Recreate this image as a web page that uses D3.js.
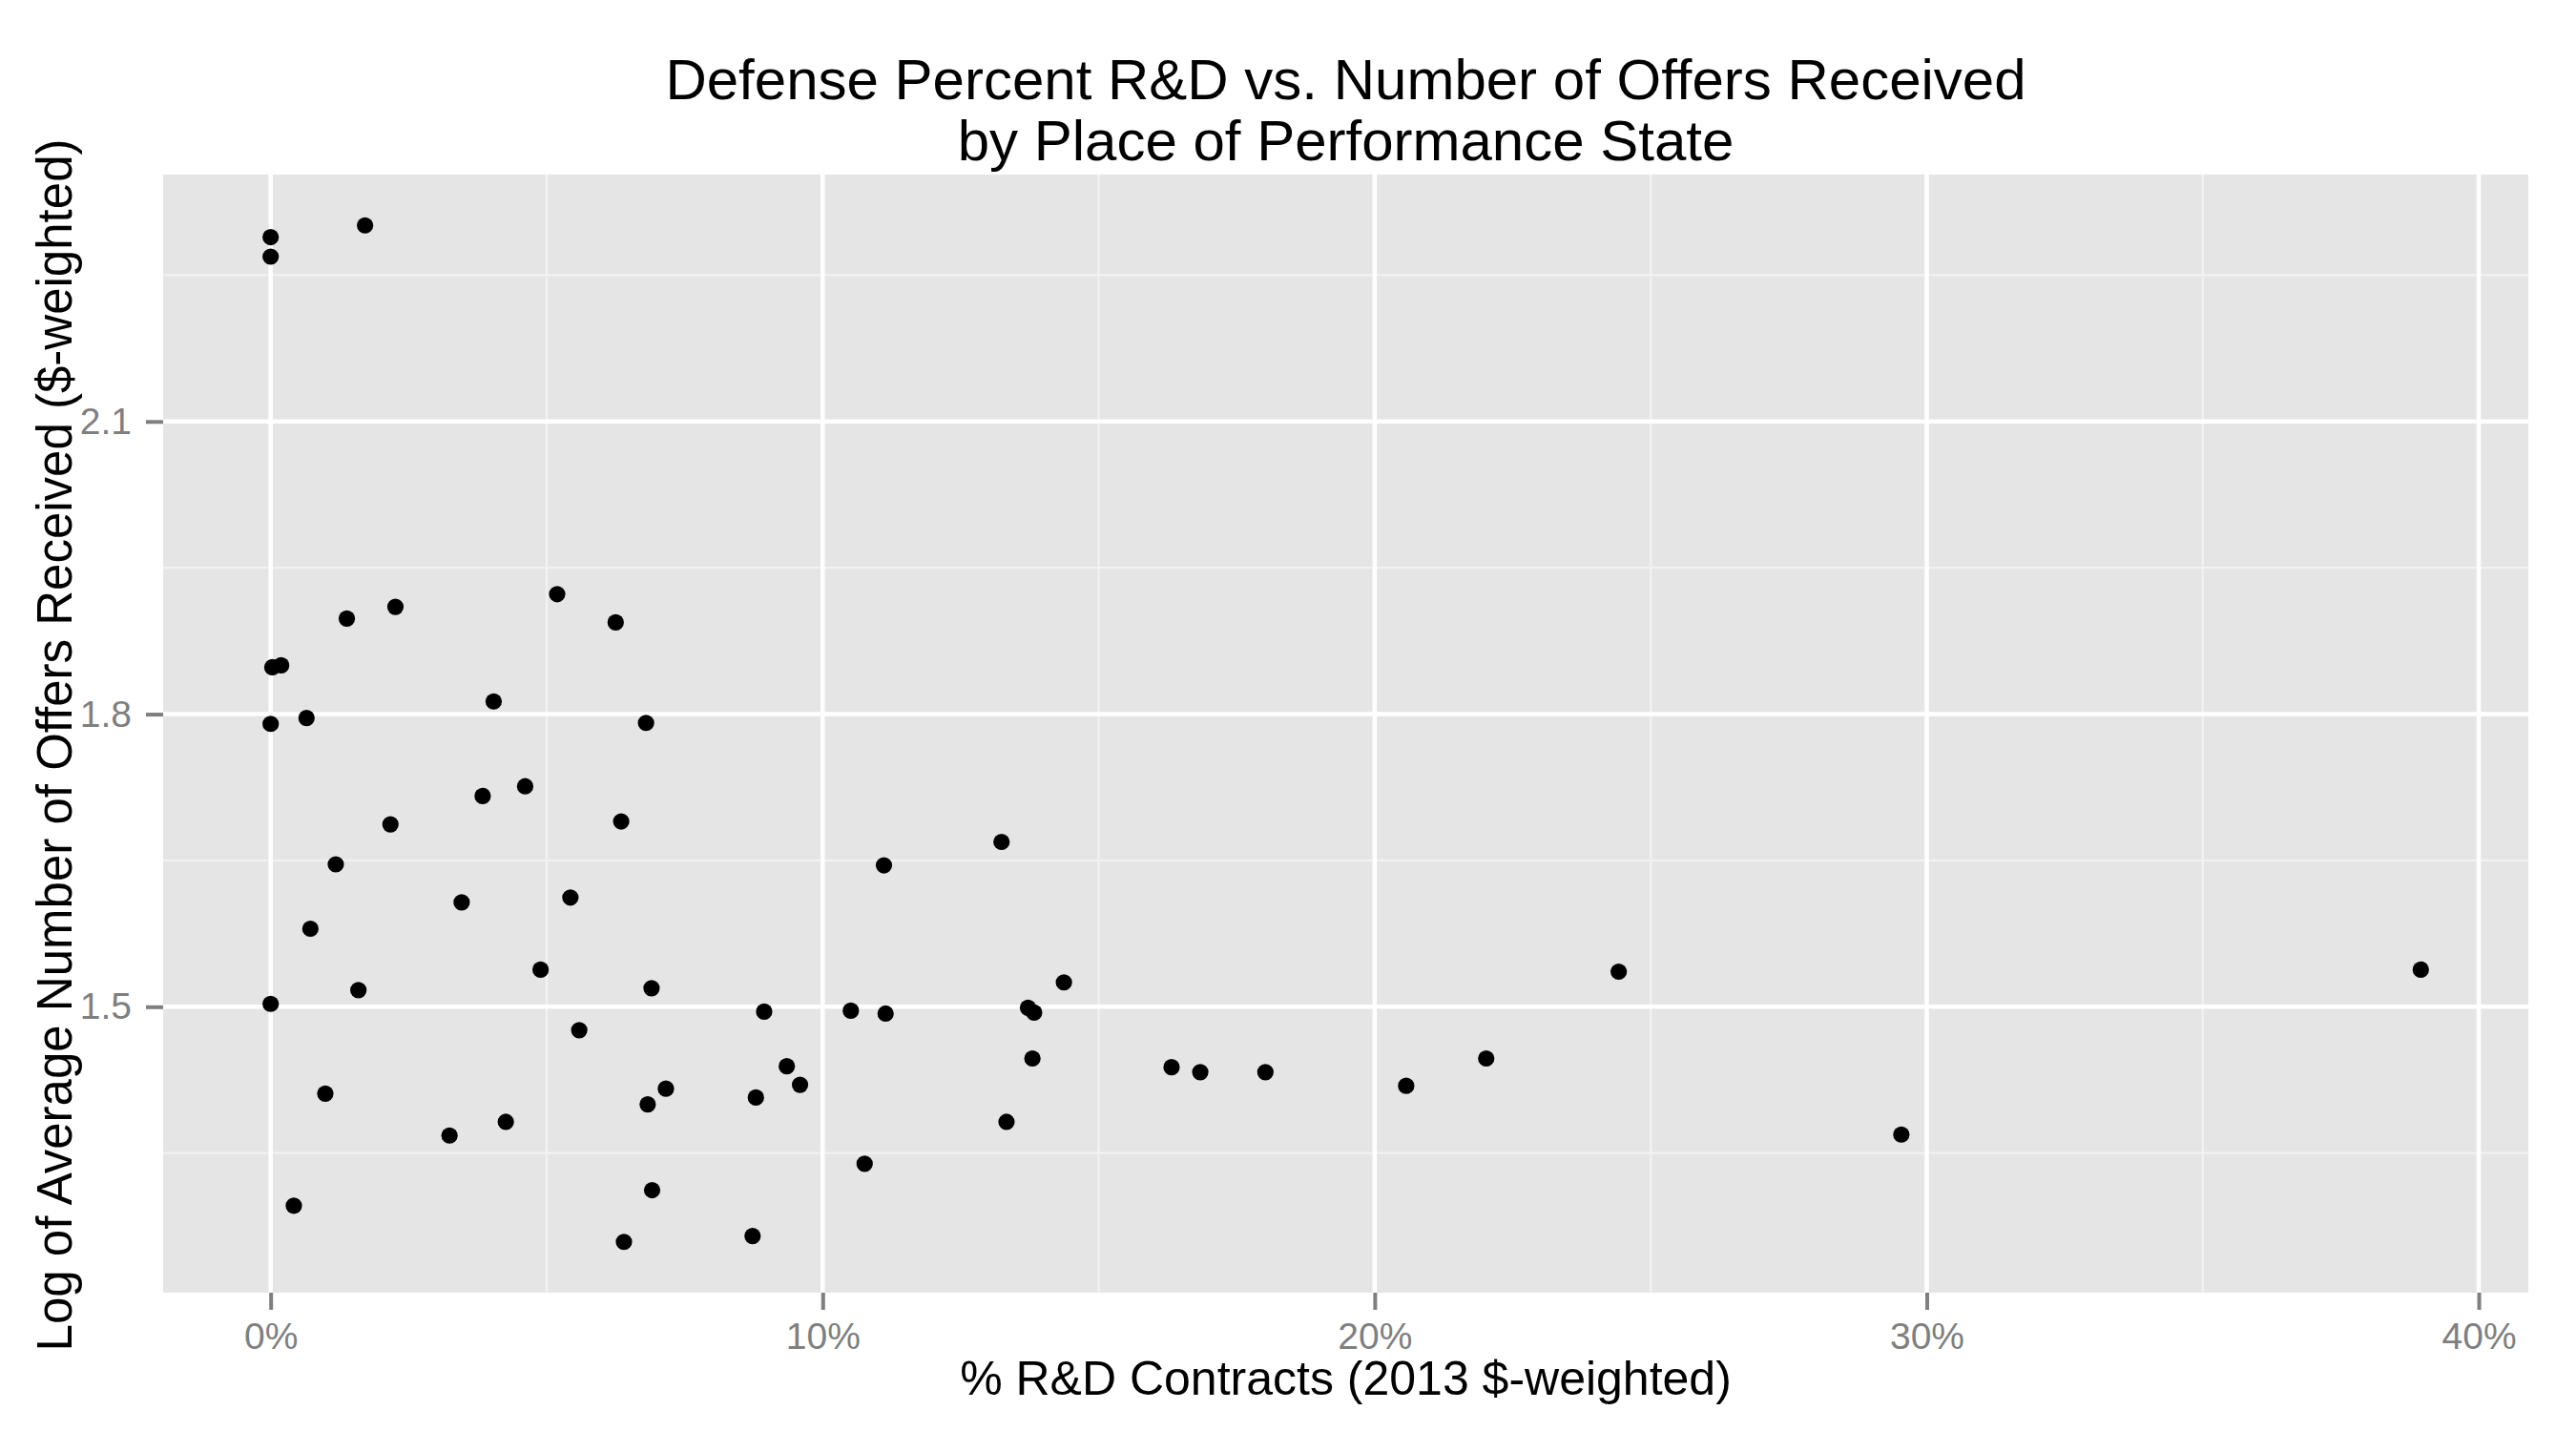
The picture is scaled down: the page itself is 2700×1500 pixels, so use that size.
<!DOCTYPE html>
<html>
<head>
<meta charset="utf-8">
<script src="https://cdn.jsdelivr.net/npm/d3@7"></script>
<style>
  body { margin: 0; background: #fff; }
  svg { display: block; font-family: "Liberation Sans", Arial, sans-serif; }
</style>
</head>
<body>
<svg id="chart" width="2700" height="1500"></svg>
<script>
// % R&D contracts (percent) per place of performance state
var pctRD = [
  0.0, 0.0, 1.71,
  1.38, 2.26, 5.19, 6.25, 0.03, 0.19, 4.04, 0.0, 0.65, 6.80, 4.61, 3.84, 2.17, 6.35, 1.18, 3.46, 5.43,
  0.72, 4.89, 1.59, 6.90, 0.0, 5.59, 7.16, 0.99, 6.83, 4.26, 3.24, 6.91, 0.42, 6.40,
  13.24, 11.11, 14.37, 8.94, 10.51, 11.14, 13.72, 13.83, 13.80, 9.35, 9.59, 8.79, 13.33, 10.76, 8.73,
  16.32, 16.84, 18.02, 20.57, 22.02, 24.42, 29.54, 38.95
];
// log of average number of offers received
var logOffers = [
  2.289, 2.269, 2.301,
  1.898, 1.910, 1.923, 1.894, 1.848, 1.850, 1.813, 1.790, 1.796, 1.791, 1.726, 1.716, 1.687, 1.690, 1.646, 1.607, 1.612,
  1.580, 1.538, 1.517, 1.519, 1.503, 1.476, 1.416, 1.411, 1.400, 1.382, 1.368, 1.312, 1.296, 1.259,
  1.669, 1.645, 1.525, 1.495, 1.496, 1.493, 1.499, 1.494, 1.447, 1.439, 1.420, 1.407, 1.382, 1.339, 1.265,
  1.438, 1.433, 1.433, 1.419, 1.447, 1.536, 1.369, 1.538
];

var xMajor = [0, 10, 20, 30, 40];
var xMinor = [5, 15, 25, 35];
var yMajor = [1.5, 1.8, 2.1];
var yMinor = [1.35, 1.65, 1.95, 2.25];

var titleLines = ["Defense Percent R&D vs. Number of Offers Received", "by Place of Performance State"];
var xTitle = "% R&D Contracts (2013 $-weighted)";
var yTitle = "Log of Average Number of Offers Received ($-weighted)";

var svg = d3.select("#chart");
var padding = { t: 183, r: 50, b: 145, l: 171 };
var chartWidth = 2700 - padding.l - padding.r;
var chartHeight = 1500 - padding.t - padding.b;

// ggplot style 5% expansion
function expand(ext) {
  var d = (ext[1] - ext[0]) * 0.05;
  return [ext[0] - d, ext[1] + d];
}

var xScale = d3.scaleLinear().domain(expand(d3.extent(pctRD))).range([0, chartWidth]);
var yScale = d3.scaleLinear().domain(expand(d3.extent(logOffers))).range([chartHeight, 0]);

var chartG = svg.append("g")
  .attr("transform", "translate(" + [padding.l, padding.t] + ")");

chartG.append("rect")
  .attr("width", chartWidth)
  .attr("height", chartHeight)
  .attr("fill", "#E5E5E5");

// minor grid
chartG.selectAll(".xminor").data(xMinor).enter().append("line")
  .attr("x1", d => xScale(d)).attr("x2", d => xScale(d))
  .attr("y1", 0).attr("y2", chartHeight)
  .attr("stroke", "#F2F2F2").attr("stroke-width", 2.2);
chartG.selectAll(".yminor").data(yMinor).enter().append("line")
  .attr("y1", d => yScale(d)).attr("y2", d => yScale(d))
  .attr("x1", 0).attr("x2", chartWidth)
  .attr("stroke", "#F2F2F2").attr("stroke-width", 2.2);

// major grid
chartG.selectAll(".xmajor").data(xMajor).enter().append("line")
  .attr("x1", d => xScale(d)).attr("x2", d => xScale(d))
  .attr("y1", 0).attr("y2", chartHeight)
  .attr("stroke", "#FFFFFF").attr("stroke-width", 4.5);
chartG.selectAll(".ymajor").data(yMajor).enter().append("line")
  .attr("y1", d => yScale(d)).attr("y2", d => yScale(d))
  .attr("x1", 0).attr("x2", chartWidth)
  .attr("stroke", "#FFFFFF").attr("stroke-width", 4.5);

// points
chartG.selectAll("circle").data(pctRD).enter().append("circle")
  .attr("cx", d => xScale(d))
  .attr("cy", (d, i) => yScale(logOffers[i]))
  .attr("r", 8.6)
  .attr("fill", "#000");

// axes
var xAxisG = chartG.append("g")
  .attr("class", "x axis")
  .attr("transform", "translate(" + [0, chartHeight] + ")")
  .call(d3.axisBottom(xScale).tickValues(xMajor).tickFormat(d => d + "%").tickSize(18).tickPadding(13));
var yAxisG = chartG.append("g")
  .attr("class", "y axis")
  .call(d3.axisLeft(yScale).tickValues(yMajor).tickFormat(d3.format(".1f")).tickSize(18).tickPadding(15));

[xAxisG, yAxisG].forEach(g => {
  g.select(".domain").remove();
  g.selectAll(".tick line").attr("stroke", "#7F7F7F").attr("stroke-width", 4);
  g.selectAll(".tick text")
    .attr("fill", "#7F7F7F")
    .style("font-size", "39px")
    .style("font-family", "'Liberation Sans', Arial, sans-serif");
});

// titles
var cx = padding.l + chartWidth / 2;
svg.append("text")
  .attr("x", cx).attr("y", 104)
  .attr("text-anchor", "middle")
  .style("font-size", "60px")
  .text(titleLines[0]);
svg.append("text")
  .attr("x", cx).attr("y", 168)
  .attr("text-anchor", "middle")
  .style("font-size", "60px")
  .text(titleLines[1]);

svg.append("text")
  .attr("x", cx).attr("y", 1462)
  .attr("text-anchor", "middle")
  .style("font-size", "50px")
  .text(xTitle);

svg.append("text")
  .attr("transform", "translate(" + [75, padding.t + chartHeight / 2 + 12] + ") rotate(-90)")
  .attr("text-anchor", "middle")
  .style("font-size", "51px")
  .text(yTitle);
</script>
</body>
</html>
